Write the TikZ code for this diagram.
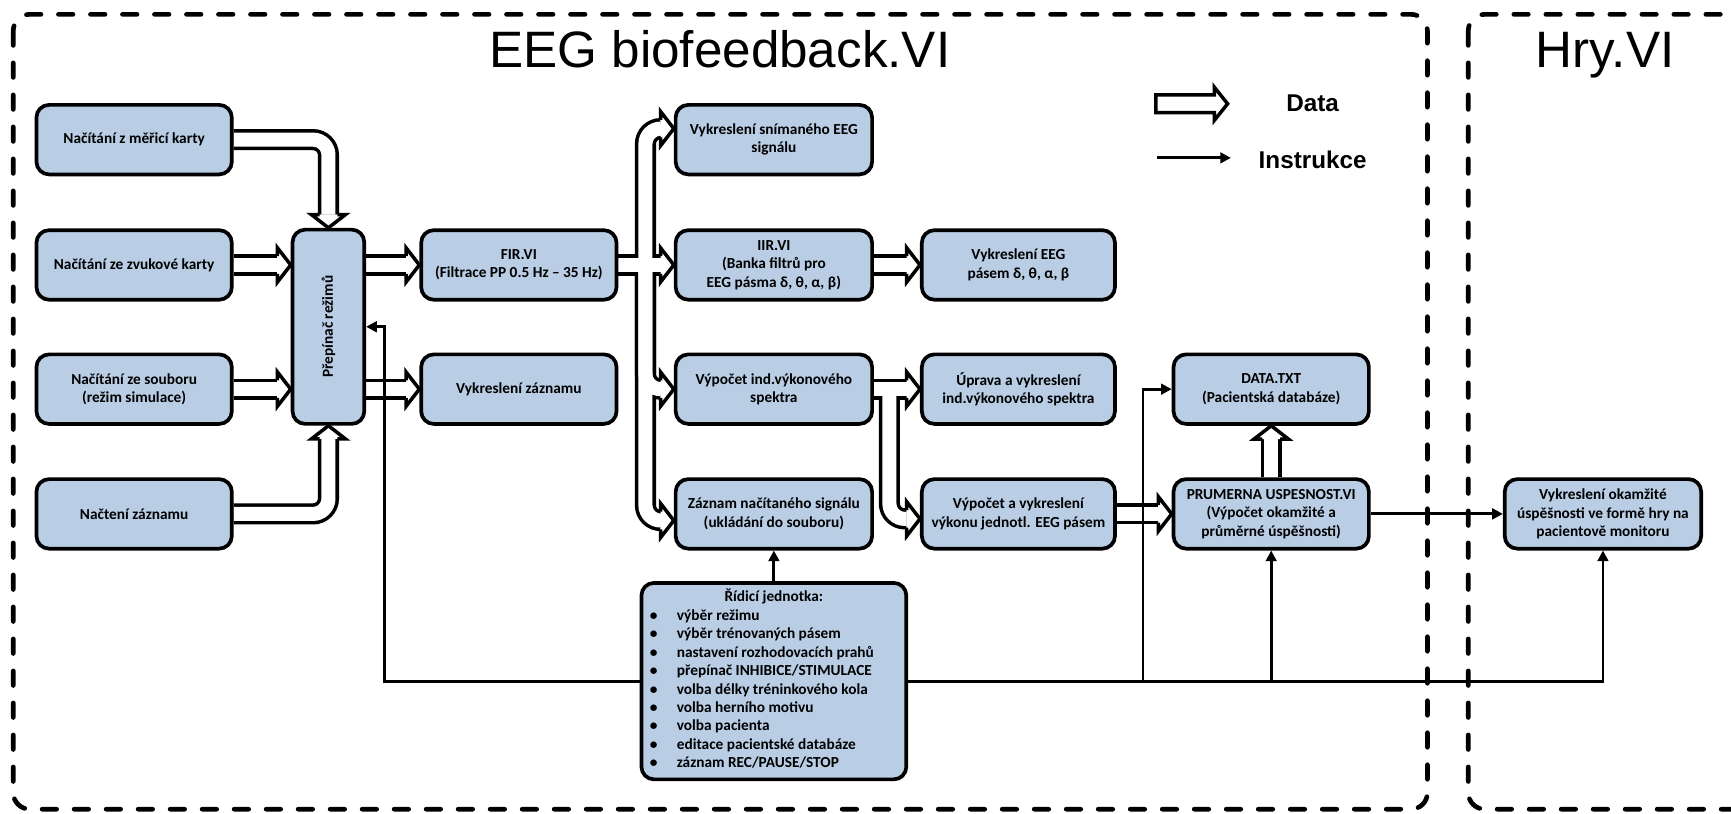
\documentclass[tikz,border=0pt]{standalone}
\usepackage{fontspec}
\setmainfont{Carlito}
\newfontfamily\arialf{Liberation Sans}
\usetikzlibrary{calc,arrows.meta}
\pgfdeclarelayer{bandb}
\pgfdeclarelayer{bandw}
\pgfdeclarelayer{instrl}
\pgfsetlayers{bandb,bandw,instrl,main}
\definecolor{boxblue}{RGB}{185,205,229}
\tikzset{
 box/.style={draw=black, fill=boxblue, line width=1.9pt, rounded corners=6.5pt, minimum width=3.54cm, minimum height=1.26cm, inner sep=0pt, align=center, font=\fontsize{7.9}{9.5}\selectfont\bfseries},
 bandblack/.style={draw=black, line width=10.9pt, rounded corners=7.9pt},
 bandwhite/.style={draw=white, line width=7.26pt, rounded corners=7.9pt},
 instr/.style={draw=black, line width=1.5pt, -{Triangle[length=5.5pt,width=5.5pt]}},
 frame/.style={draw=black, line width=2.4pt, dash pattern=on 7.5pt off 9pt, line cap=round, rounded corners=8.5pt},
 dhead/.pic={\filldraw[fill=white, draw=black, line width=1.8pt, line join=miter] (0,8)--(0,15.5)--(12,0)--(0,-15.5)--(0,-8);},
 titlef/.style={font=\arialf\fontsize{26.4}{30}\selectfont, anchor=base, inner sep=0pt},
 legf/.style={font=\arialf\bfseries\fontsize{12.5}{14}\selectfont},
}
\newcommand\bandpaths{%
 \draw (b1.east) -| ($(prep.north)+(0,-12)$);
 \draw (b2.east) -- ($(prep.west |- b2.east)+(-12,0)$);
 \draw (b3.east) -- ($(prep.west |- b3.east)+(-12,0)$);
 \draw (b4.east) -| ($(prep.south)+(0,12)$);
 \draw (prep.east |- fir.west) -- ($(fir.west)+(-12,0)$);
 \draw (prep.east |- vz.west) -- ($(vz.west)+(-12,0)$);
 \draw (fir.east) -- (J1);
 \draw (J1) |- ($(b8.west)+(-12,-10)$);
 \draw (J1) -- ($(b9.west)+(-12,0)$);
 \draw (J1) |- ($(b11.west)+(-12,0)$);
 \draw (J1) |- ($(b13.west)+(-12,6)$);
 \draw (b9.east) -- ($(b10.west)+(-12,0)$);
 \draw (b11.east) -- ($(b12.west)+(-12,0)$);
 \draw (J2) |- ($(b14.west)+(-12,4.5)$);
 \draw (b14.east) -- ($(b16.west)+(-12,0)$);
 \draw (b16.north) -- ($(b15.south)+(0,12)$);
}
\begin{document}
\begin{tikzpicture}[x=0.02cm, y=-0.02cm]
\useasboundingbox (0,0) rectangle (1568,737);
\clip (0,0) rectangle (1568,737);

% frames
\draw[frame] (12,13) rectangle (1293,733);
\draw[frame] (1330,13) rectangle (1640,733);
\node[titlef] (tEEG) at (652,61) {EEG biofeedback.VI};
\node[titlef] (tHry) at (1454,61) {Hry.VI};

% boxes
\node[box] (b1) at (121.5,126.5) {Načítání z měřicí karty};
\node[box] (b2) at (121.5,240) {Načítání ze zvukové karty};
\node[box] (b3) at (121.5,352.5) {Načítání ze souboru\\(režim simulace)};
\node[box] (b4) at (121.5,465.5) {Načtení záznamu};
\node[box, minimum width=1.3cm, minimum height=3.52cm] (prep) at (297.5,296) {\rotatebox{90}{Přepínač režimů}};
\node[box] (fir) at (470,240) {FIR.VI\\(Filtrace PP 0.5 Hz – 35 Hz)};
\node[box] (vz) at (470,352.5) {Vykreslení záznamu};
\node[box, minimum width=3.56cm] (b8) at (701,126.5) {Vykreslení snímaného EEG\\signálu};
\node[box, minimum width=3.56cm] (b9) at (701,240) {IIR.VI\\(Banka filtrů pro\\EEG pásma δ, θ, α, β)};
\node[box, minimum width=3.56cm] (b11) at (701,352.5) {Výpočet ind.výkonového\\spektra};
\node[box, minimum width=3.56cm] (b13) at (701,465.5) {Záznam načítaného signálu\\(ukládání do souboru)};
\node[box, minimum width=3.5cm] (b10) at (922.5,240) {Vykreslení EEG\\pásem δ, θ, α, β};
\node[box, minimum width=3.5cm] (b12) at (922.5,352.5) {Úprava a vykreslení\\ind.výkonového spektra};
\node[box, minimum width=3.5cm] (b14) at (922.5,465.5) {Výpočet a vykreslení\\výkonu jednotl. EEG pásem};
\node[box] (b15) at (1151.5,352.5) {DATA.TXT\\(Pacientská databáze)};
\node[box] (b16) at (1151.5,465.5) {PRUMERNA USPESNOST.VI\\(Výpočet okamžité a\\průměrné úspěšnosti)};
\node[box, minimum width=3.56cm] (b17) at (1452,465.5) {Vykreslení okamžité\\úspěšnosti ve formě hry na\\pacientově monitoru};
\node[box, minimum width=4.8cm, minimum height=3.56cm] (ridici) at (701,617) {%
\begin{tabular}{@{}l@{\hspace{10pt}}p{114pt}@{}}
\multicolumn{2}{c}{Řídicí jednotka:}\\
•&výběr režimu\\
•&výběr trénovaných pásem\\
•&nastavení rozhodovacích prahů\\
•&přepínač INHIBICE/STIMULACE\\
•&volba délky tréninkového kola\\
•&volba herního motivu\\
•&volba pacienta\\
•&editace pacientské databáze\\
•&záznam REC/PAUSE/STOP
\end{tabular}};

\coordinate (J1) at ($(fir.east)+(24.5,0)$);
\coordinate (J2) at ($(b11.east)+(14,0)$);

% data bands
\begin{pgfonlayer}{bandb}
\begin{scope}[bandblack]\bandpaths\end{scope}
\end{pgfonlayer}
\begin{pgfonlayer}{bandw}
\begin{scope}[bandwhite]\bandpaths\end{scope}
\pic[rotate=-90] at ($(prep.north)+(0,-12)$) {dhead};
\pic at ($(prep.west |- b2.east)+(-12,0)$) {dhead};
\pic at ($(prep.west |- b3.east)+(-12,0)$) {dhead};
\pic[rotate=90] at ($(prep.south)+(0,12)$) {dhead};
\pic at ($(fir.west)+(-12,0)$) {dhead};
\pic at ($(vz.west)+(-12,0)$) {dhead};
\pic at ($(b8.west)+(-12,-10)$) {dhead};
\pic at ($(b9.west)+(-12,0)$) {dhead};
\pic at ($(b11.west)+(-12,0)$) {dhead};
\pic at ($(b13.west)+(-12,6)$) {dhead};
\pic at ($(b10.west)+(-12,0)$) {dhead};
\pic at ($(b12.west)+(-12,0)$) {dhead};
\pic at ($(b14.west)+(-12,4.5)$) {dhead};
\pic at ($(b16.west)+(-12,0)$) {dhead};
\pic[rotate=90] at ($(b15.south)+(0,12)$) {dhead};
\end{pgfonlayer}

% instruction lines
\begin{pgfonlayer}{instrl}
\draw[instr] (ridici.west) -| ($(prep.east)+(17,0)$) -- (prep.east);
\draw[instr] (ridici.north) -- (b13.south);
\draw[instr] (ridici.east) -| (b17.south);
\coordinate (t1) at ($(b15.west |- ridici.east)+(-26,0)$);
\draw[instr] (t1) |- (b15.west);
\draw[instr] (b16.south |- ridici.east) -- (b16.south);
\draw[instr] (b16.east) -- (b17.west);
\end{pgfonlayer}

% legend
\coordinate (ld1) at (1047,94);
\coordinate (li1) at (1048,143);
\coordinate (li2) at (1115,143);
\begin{scope}[shift={(ld1)}]
\filldraw[fill=white, draw=black, line width=1.8pt, line join=miter] (0,-8)--(53,-8)--(53,-15)--(65,0)--(53,15)--(53,8)--(0,8)--cycle;
\end{scope}
\draw[instr] (li1) -- (li2);
\node[legf] (ldata) at (1189,94) {Data};
\node[legf] (linst) at (1189,145) {Instrukce};
\end{tikzpicture}
\end{document}
